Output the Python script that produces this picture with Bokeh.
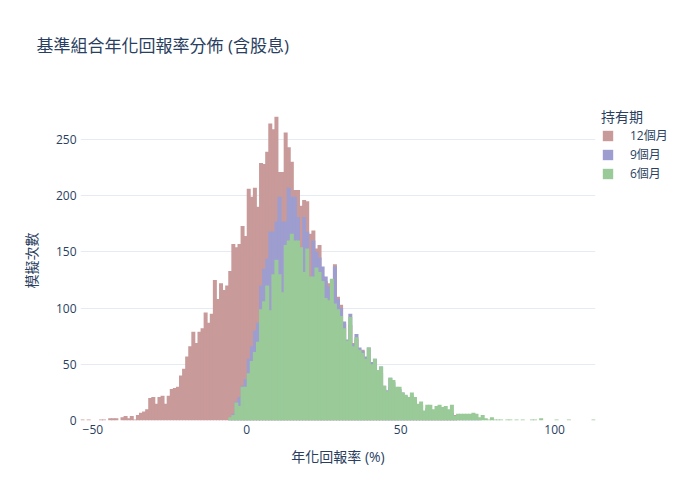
import numpy as np
from bokeh.plotting import figure
from bokeh.models import Range1d, Legend, LegendItem, FixedTicker, CustomJSTickFormatter, ColumnDataSource, Title
from bokeh.embed import file_html
from bokeh.resources import INLINE

# ---- data (bin width = 1 percentage point) ----
title_text = "基準組合年化回報率分佈 (含股息)"
x_label = "年化回報率 (%)"
y_label = "模擬次數"
legend_title = "持有期"
series_names = ["12個月", "9個月", "6個月"]

red_start = -54
red_counts = [1, 0, 1, 0, 0, 0, 1, 1, 0, 2, 2, 2, 0, 3, 4, 2, 4, 1, 5, 7, 8, 10,
              20, 21, 15, 21, 22, 15, 22, 28, 29, 30, 40, 46, 57, 66, 79, 69, 79, 82,
              96, 87, 95, 125, 108, 122, 116, 120, 133, 157, 154, 157, 173, 164,
              206, 199, 207, 190, 229, 228, 239, 264, 259, 270, 221, 221, 256, 243,
              230, 205, 205, 191, 196, 195, 166, 169, 153, 156, 128, 124, 122, 112,
              139, 110, 103, 86, 70, 85, 69, 72, 60, 63, 50, 55, 45, 50, 40, 42, 28,
              24, 30, 28, 22, 20, 18, 15, 14, 13, 10, 9, 8, 7, 6, 5, 4, 3, 3, 2, 2, 2,
              1, 5]

purple_start = -6
purple_counts = [2, 6, 17, 21, 31, 37, 55, 66, 80, 87, 120, 135, 144, 168, 168, 177,
                 199, 177, 177, 207, 199, 199, 181, 152, 181, 168, 128, 160, 150, 145,
                 137, 128, 119, 119, 137, 108, 100, 88, 72, 95, 68, 77, 65, 62, 57, 65,
                 52, 55, 45, 48, 31, 27, 38, 34, 29, 28, 25, 22, 19, 22, 18, 13, 14, 8,
                 11, 10, 8, 9, 9, 8, 7, 6, 7, 3, 3, 2, 2, 2, 1, 1, 1, 1]

green_start = -6
green_counts = [3, 5, 16, 13, 30, 30, 42, 53, 61, 70, 99, 106, 120, 98, 130, 143, 130,
                114, 156, 160, 166, 160, 160, 154, 132, 153, 128, 128, 136, 132, 124,
                109, 107, 126, 104, 99, 93, 82, 71, 92, 66, 74, 63, 60, 55, 65, 50, 55,
                45, 48, 31, 26, 38, 36, 30, 30, 25, 23, 21, 25, 21, 15, 17, 9, 14, 14,
                10, 13, 14, 12, 13, 10, 14, 4, 6, 6, 6, 6, 6, 7, 6, 3, 5, 2, 1, 3, 1, 1,
                1, 0, 1, 1, 0, 1, 0, 1, 0, 0, 1, 1, 0, 2, 0, 0, 0, 0, 1, 0, 0, 0, 1, 0,
                0, 0, 0, 0, 0, 0, 1]

x_ticks = [-50, 0, 50, 100]
y_ticks = [0, 50, 100, 150, 200, 250]

colors = ["#c99a9a", "#9e9dcf", "#99ca98"]

FONT = "Open Sans, Noto Sans CJK TC, sans-serif"
TXT = "#2a3f5f"
BIN_WIDTH = 1.0
SEAM = 0.3  # tiny overlap so adjacent bars leave no antialiasing seams


def bins(start, counts):
    left = start + BIN_WIDTH * np.arange(len(counts))
    return ColumnDataSource(dict(left=left, right=left + BIN_WIDTH + SEAM, top=counts))


p = figure(frame_width=515, frame_height=320, output_backend="svg", toolbar_location=None,
           title=None,
           x_range=Range1d(-54, 113.3), y_range=Range1d(0, 284.5),
           min_border_left=80, min_border_right=105, min_border_top=100,
           min_border_bottom=80)
p.outline_line_color = None
p.background_fill_color = "white"

renderers = []
for (start, counts), col in zip([(red_start, red_counts), (purple_start, purple_counts),
                                 (green_start, green_counts)], colors):
    r = p.quad(left="left", right="right", top="top", bottom=0, source=bins(start, counts),
               fill_color=col, line_color=None)
    renderers.append(r)

# title: an empty spacer title next to the frame, the real title above it
spacer = Title(text=" ", text_font_size="10px", standoff=26)
p.add_layout(spacer, "above")
main_title = Title(text=title_text, text_font=FONT, text_font_size="17px",
                   text_font_style="normal", text_color=TXT, align="left",
                   offset=-44, standoff=10)
p.add_layout(main_title, "above")

# axes
for ax in (p.xaxis[0], p.yaxis[0]):
    ax.axis_line_color = None
    ax.major_tick_line_color = None
    ax.minor_tick_line_color = None
    ax.major_label_text_font = FONT
    ax.major_label_text_font_size = "12px"
    ax.major_label_text_color = TXT
    ax.axis_label_text_font = FONT
    ax.axis_label_text_font_size = "14px"
    ax.axis_label_text_font_style = "normal"
    ax.axis_label_text_color = TXT
    ax.major_tick_out = 0
    ax.major_tick_in = 0

p.xaxis.ticker = FixedTicker(ticks=x_ticks)
p.yaxis.ticker = FixedTicker(ticks=y_ticks)
p.xaxis.formatter = CustomJSTickFormatter(code="return String(tick).replace('-', '\u2212');")
p.xaxis.axis_label = x_label
p.yaxis.axis_label = y_label
p.xaxis.major_label_standoff = 4
p.yaxis.major_label_standoff = 4
p.xaxis.axis_label_standoff = 10
p.yaxis.axis_label_standoff = 12

p.xgrid.grid_line_color = None
p.ygrid.grid_line_color = "#e6ebf3"
p.ygrid.grid_line_width = 1

legend = Legend(items=[LegendItem(label=n, renderers=[r]) for n, r in zip(series_names, renderers)],
                location="top_left")
legend.title = legend_title
legend.title_text_font = FONT
legend.title_text_font_size = "14px"
legend.title_text_font_style = "normal"
legend.title_text_color = TXT
legend.title_standoff = 0
legend.label_text_font = FONT
legend.label_text_font_size = "12px"
legend.label_text_color = TXT
legend.glyph_width = 13
legend.glyph_height = 13
legend.label_height = 13
legend.label_standoff = 16
legend.spacing = 1
legend.padding = 3
legend.margin = 6
legend.border_line_color = None
legend.background_fill_alpha = 0
p.add_layout(legend, "right")

open("out.html", "w").write(file_html(p, INLINE))
